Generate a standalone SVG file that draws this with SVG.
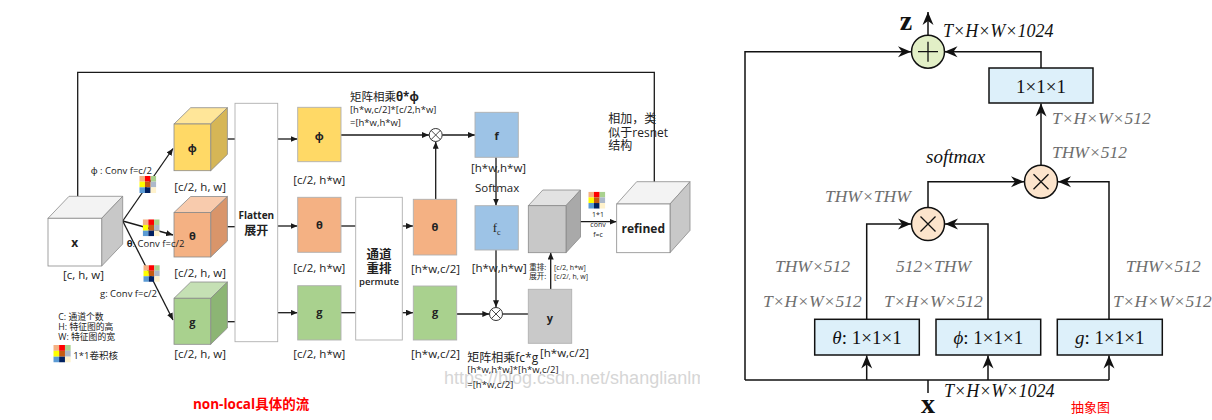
<svg xmlns="http://www.w3.org/2000/svg" width="1212" height="420" viewBox="0 0 1212 420">
<style>
.s{font-family:"Open Sans","Noto Sans","Noto Sans CJK SC",sans-serif;fill:#222}
.lab{font-size:11.5px}
.sm{font-size:9.5px}
.b{font-weight:bold}
.ln{fill:none;stroke:#1a1a1a;stroke-width:1.3}
.rl{fill:none;stroke:#111;stroke-width:1.5}
.ed{stroke:#8a8a8a;stroke-width:0.8}
.rc{stroke:#b0b0b0;stroke-width:0.9}
.t{font-family:"Liberation Serif","Times New Roman",serif}
.gi{font-size:17.5px;font-style:italic;fill:#6e6e6e}
.bi{font-size:18px;font-style:italic;fill:#111}
.bx{fill:#ddf0fa;stroke:#111;stroke-width:1.5}
.bt{font-size:19px;fill:#111}
</style>
<defs>
<marker id="aL" markerUnits="userSpaceOnUse" markerWidth="8" markerHeight="6" refX="7" refY="3" orient="auto"><path d="M0,0 L7,3 L0,6 z" fill="#1a1a1a"/></marker>
<marker id="aR" markerUnits="userSpaceOnUse" markerWidth="14" markerHeight="12" refX="13" refY="6" orient="auto"><path d="M0,0.5 L13,6 L0,11.5 L4,6 z" fill="#111"/></marker>
<symbol id="k" viewBox="0 0 3 3">
<rect x="0" y="0" width="1" height="1" fill="#f4b183"/><rect x="1" y="0" width="1" height="1" fill="#ff0000"/><rect x="2" y="0" width="1" height="1" fill="#a9d18e"/>
<rect x="0" y="1" width="1" height="1" fill="#ffff00"/><rect x="1" y="1" width="1" height="1" fill="#c55a11"/><rect x="2" y="1" width="1" height="1" fill="#adb9ca"/>
<rect x="0" y="2" width="1" height="1" fill="#5b9bd5"/><rect x="1" y="2" width="1" height="1" fill="#002060"/><rect x="2" y="2" width="1" height="1" fill="#fff2cc"/>
</symbol>
<clipPath id="cl"><rect x="0" y="0" width="700" height="420"/></clipPath>
</defs>
<rect width="1212" height="420" fill="#fff"/>

<!-- ===== LEFT DIAGRAM ===== -->
<text x="444" y="383.5" font-family="'Liberation Sans',Arial,sans-serif" font-size="18" fill="#d6d6d6" clip-path="url(#cl)">https://blog.csdn.net/shanglianlm</text>

<g id="connectors-left">
<path class="ln" d="M77.7,196.5 V72.3 H654.3 V191" marker-end="url(#aL)"/>
<path class="ln" d="M122.7,221 L173,148.5" marker-end="url(#aL)"/>
<path class="ln" d="M122.7,221 L173,235" marker-end="url(#aL)"/>
<path class="ln" d="M122.7,221 L173,320" marker-end="url(#aL)"/>
<path class="ln" d="M227.4,139 H235"/>
<path class="ln" d="M227.4,226.7 H235"/>
<path class="ln" d="M227.4,321.7 H235"/>
<path class="ln" d="M277.7,139 H297.5" marker-end="url(#aL)"/>
<path class="ln" d="M277.7,226 H297.5" marker-end="url(#aL)"/>
<path class="ln" d="M277.7,312.7 H297.5" marker-end="url(#aL)"/>
<path class="ln" d="M341,226 H355.7"/>
<path class="ln" d="M341,312.7 H355.7"/>
<path class="ln" d="M402.3,226 H413" marker-end="url(#aL)"/>
<path class="ln" d="M402.3,312.7 H413" marker-end="url(#aL)"/>
<path class="ln" d="M341,135 H429" marker-end="url(#aL)"/>
<path class="ln" d="M435.7,199.3 V141.7" marker-end="url(#aL)"/>
<path class="ln" d="M442.2,135 H475" marker-end="url(#aL)"/>
<path class="ln" d="M496,157.3 V205.5" marker-end="url(#aL)"/>
<path class="ln" d="M496,250 V307.3" marker-end="url(#aL)"/>
<path class="ln" d="M456.7,314 H489.3" marker-end="url(#aL)"/>
<path class="ln" d="M502.5,314 H528.3"/>
<path class="ln" d="M550.7,289.3 V252.5" marker-end="url(#aL)"/>
<path class="ln" d="M566,221.7 H616.5" marker-end="url(#aL)"/>
</g>

<g id="node-x">
<polygon points="48,218.3 69,196.3 122.7,196.3 101.7,218.3" fill="#f3f3f3" class="ed"/>
<polygon points="101.7,218.3 122.7,196.3 122.7,244 101.7,266" fill="#c8c8c8" class="ed"/>
<rect x="48" y="218.3" width="53.7" height="47.7" fill="#fff" class="ed"/>
<text class="s b" x="74.8" y="247" font-size="12" text-anchor="middle">x</text>
<text class="s lab" x="63" y="279">[c, h, w]</text>
</g>

<g id="node-phi-cube">
<polygon points="174,124 190.7,107.7 227.4,107.7 210.7,124" fill="#ffe699" class="ed"/>
<polygon points="210.7,124 227.4,107.7 227.4,154.4 210.7,170.7" fill="#d6b656" class="ed"/>
<rect x="174" y="124" width="36.7" height="46.7" fill="#ffd966" class="ed"/>
<text class="s b" x="192.3" y="152" font-size="11" text-anchor="middle">ϕ</text>
<text class="s lab" x="174.3" y="190.7">[c/2, h, w]</text>
<text class="s sm" x="90.7" y="174.3">ϕ : Conv f=c/2</text>
<use href="#k" x="139.3" y="176" width="17" height="17"/>
</g>

<g id="node-theta-cube">
<polygon points="174,212.5 190.7,196.5 227.4,196.5 210.7,212.5" fill="#f8cbad" class="ed"/>
<polygon points="210.7,212.5 227.4,196.5 227.4,241 210.7,257" fill="#d9956a" class="ed"/>
<rect x="174" y="212.5" width="36.7" height="44.5" fill="#f4b183" class="ed"/>
<text class="s b" x="192.3" y="240" font-size="11" text-anchor="middle">θ</text>
<text class="s lab" x="174.3" y="276.7">[c/2, h, w]</text>
<use href="#k" x="142.7" y="219.3" width="17" height="17"/>
<text class="s sm" x="126.7" y="246.7"><tspan class="b">θ</tspan>: Conv f=c/2</text>
</g>

<g id="node-g-cube">
<polygon points="174,298.3 190.7,282 227.4,282 210.7,298.3" fill="#c5e0b4" class="ed"/>
<polygon points="210.7,298.3 227.4,282 227.4,328 210.7,344.3" fill="#8cb574" class="ed"/>
<rect x="174" y="298.3" width="36.7" height="46" fill="#a9d18e" class="ed"/>
<text class="s b" x="192.3" y="326" font-size="11" text-anchor="middle">g</text>
<text class="s lab" x="174.3" y="358.3">[c/2, h, w]</text>
<use href="#k" x="143.3" y="265" width="16.5" height="17"/>
<text class="s sm" x="100" y="296.7">g: Conv f=c/2</text>
</g>

<g id="legend">
<text class="s" x="58.3" y="320" font-size="8.8">C:  通道个数</text>
<text class="s" x="58.3" y="329.7" font-size="8.8">H:  特征图的高</text>
<text class="s" x="58.3" y="339.5" font-size="8.8">W: 特征图的宽</text>
<use href="#k" x="53.3" y="345" width="17.5" height="17.5"/>
<text class="s" x="73.3" y="359.3" font-size="9.5">1*1卷积核</text>
<text class="s b" x="193" y="408.5" font-size="13.5" style="fill:#ff0000">non-local具体的流</text>
</g>

<g id="node-flatten">
<rect x="235" y="103.3" width="42.7" height="238.4" fill="#fff" class="rc"/>
<text class="s b" x="256.3" y="219" font-size="10" text-anchor="middle">Flatten</text>
<text class="s b" x="256.3" y="235" font-size="12" text-anchor="middle">展开</text>
</g>

<g id="node-phi">
<rect x="297.7" y="107.3" width="43.3" height="54.4" fill="#ffd966" class="rc"/>
<text class="s b" x="319.3" y="140" font-size="11" text-anchor="middle">ϕ</text>
<text class="s lab" x="293.3" y="184.3">[c/2, h*w]</text>
</g>

<g id="node-theta">
<rect x="297.7" y="197.3" width="43.3" height="55" fill="#f4b183" class="rc"/>
<text class="s b" x="319.3" y="229" font-size="11" text-anchor="middle">θ</text>
<text class="s lab" x="293.3" y="271.7">[c/2, h*w]</text>
</g>

<g id="node-g">
<rect x="297.7" y="285.7" width="43.3" height="54.3" fill="#a9d18e" class="rc"/>
<text class="s b" x="319.3" y="316" font-size="11" text-anchor="middle">g</text>
<text class="s lab" x="293.3" y="358.3">[c/2, h*w]</text>
</g>

<g id="node-permute">
<rect x="355.7" y="197.3" width="46.6" height="142.7" fill="#fff" class="rc"/>
<text class="s b" x="379" y="259.3" font-size="12.5" text-anchor="middle">通道</text>
<text class="s b" x="379" y="273" font-size="12.5" text-anchor="middle">重排</text>
<text class="s" x="379" y="285" font-size="9.5" text-anchor="middle" font-weight="600">permute</text>
</g>

<g id="node-theta2">
<rect x="413.3" y="199.3" width="43.4" height="55.7" fill="#f4b183" class="rc"/>
<text class="s b" x="435" y="231" font-size="11" text-anchor="middle">θ</text>
<text class="s lab" x="411" y="273.3">[h*w,c/2]</text>
</g>

<g id="node-g2">
<rect x="413.3" y="286" width="43.4" height="54" fill="#a9d18e" class="rc"/>
<text class="s b" x="435" y="316" font-size="11" text-anchor="middle">g</text>
<text class="s lab" x="411" y="358.3">[h*w,c/2]</text>
</g>

<g id="node-mul1">
<circle cx="435.7" cy="135" r="6.5" fill="#fff" stroke="#333" stroke-width="1"/>
<path d="M431.1,130.4 L440.3,139.6 M440.3,130.4 L431.1,139.6" stroke="#333" stroke-width="0.9"/>
<text class="s" x="350" y="100.7" font-size="11.5">矩阵相乘<tspan class="b">θ*ϕ</tspan></text>
<text class="s sm" x="350" y="113.3">[h*w,c/2]*[c/2,h*w]</text>
<text class="s sm" x="350" y="126">=[h*w,h*w]</text>
</g>

<g id="node-f">
<rect x="475" y="112.3" width="43.3" height="45" fill="#9dc3e6" class="rc"/>
<text class="s b" x="496.7" y="140" font-size="11" text-anchor="middle">f</text>
<text class="s lab" x="471" y="171.7">[h*w,h*w]</text>
<text class="s" x="475" y="191.7" font-size="11.5">Softmax</text>
</g>

<g id="node-fc">
<rect x="475" y="205.7" width="43.3" height="44.3" fill="#9dc3e6" class="rc"/>
<text class="t" x="496.7" y="232" font-size="13" text-anchor="middle" fill="#222">f<tspan font-size="8" dy="3">c</tspan></text>
<text class="s lab" x="471.7" y="271.7">[h*w,h*w]</text>
</g>

<g id="node-mul2">
<circle cx="496" cy="314" r="6.5" fill="#fff" stroke="#333" stroke-width="1"/>
<path d="M491.4,309.4 L500.6,318.6 M500.6,309.4 L491.4,318.6" stroke="#333" stroke-width="0.9"/>
<text class="s" x="467.3" y="361.7" font-size="12">矩阵相乘fc*g</text>
<text class="s sm" x="467.3" y="373.3">[h*w,h*w]*[h*w,c/2]</text>
<text class="s sm" x="467.3" y="388.3">=[h*w,c/2]</text>
</g>

<g id="node-y">
<rect x="528.3" y="289.3" width="43.4" height="54" fill="#c9c9c9" class="rc"/>
<text class="s b" x="550" y="322" font-size="11" text-anchor="middle">y</text>
<text class="s lab" x="540" y="356.7">[h*w,c/2]</text>
<text class="s" x="529.3" y="270" font-size="7.5">重排:</text>
<text class="s" x="529.3" y="279.3" font-size="7.5">展开:</text>
<text class="s" x="554" y="270" font-size="7">[c/2, h*w]</text>
<text class="s" x="554" y="279.3" font-size="7">[c/2/, h, w]</text>
</g>

<g id="node-gray-cube">
<polygon points="528.3,205.7 542.8,190 580.5,190 566,205.7" fill="#e2e2e2" class="ed"/>
<polygon points="566,205.7 580.5,190 580.5,237 566,252.7" fill="#a9a9a9" class="ed"/>
<rect x="528.3" y="205.7" width="37.7" height="47" fill="#c8c8c8" class="ed"/>
<use href="#k" x="588.3" y="191.7" width="17" height="17"/>
<text class="s" x="598" y="216.7" font-size="7" text-anchor="middle">1*1</text>
<text class="s" x="598" y="226.7" font-size="7" text-anchor="middle">conv</text>
<text class="s" x="598" y="236.7" font-size="7" text-anchor="middle">f=c</text>
</g>

<g id="node-refined">
<polygon points="616.7,204 636.7,181.7 690,181.7 670,204" fill="#f3f3f3" class="ed"/>
<polygon points="670,204 690,181.7 690,230.4 670,252.7" fill="#c8c8c8" class="ed"/>
<rect x="616.7" y="204" width="53.3" height="48.7" fill="#fff" class="ed"/>
<text class="s b" x="643.3" y="233" font-size="12" text-anchor="middle">refined</text>
<text class="s" x="608.3" y="123.3" font-size="12">相加，类</text>
<text class="s" x="608.3" y="136.7" font-size="12">似于resnet</text>
<text class="s" x="608.3" y="150" font-size="12">结构</text>
</g>

<!-- ===== RIGHT DIAGRAM ===== -->
<g id="connectors-right">
<path class="rl" d="M928,35 V12" marker-end="url(#aR)"/>
<path class="rl" d="M745,380 V51.7 H911" marker-end="url(#aR)"/>
<path class="rl" d="M1041,68 V51.7 H944.5" marker-end="url(#aR)"/>
<path class="rl" d="M1041,165 V103.5" marker-end="url(#aR)"/>
<path class="rl" d="M928,207.5 V181.7 H1024" marker-end="url(#aR)"/>
<path class="rl" d="M1109,319 V181.7 H1058" marker-end="url(#aR)"/>
<path class="rl" d="M866.7,319 V224 H911" marker-end="url(#aR)"/>
<path class="rl" d="M988,319 V224 H945" marker-end="url(#aR)"/>
<path class="rl" d="M745,380 H1109"/>
<path class="rl" d="M866.7,380 V355.5" marker-end="url(#aR)"/>
<path class="rl" d="M988,380 V355.5" marker-end="url(#aR)"/>
<path class="rl" d="M1109,380 V355.5" marker-end="url(#aR)"/>
<path class="rl" d="M928,380 V393"/>
</g>

<g id="node-z">
<circle cx="928" cy="51.7" r="16.5" fill="#e2efc6" stroke="#111" stroke-width="1.5"/>
<path d="M918,51.7 H938 M928,41.7 V61.7" stroke="#111" stroke-width="1.3"/>
<text class="t" x="906" y="30" font-size="28" font-weight="bold" fill="#111" text-anchor="middle">z</text>
<text class="t bi" x="943" y="37">T×H×W×1024</text>
</g>

<g id="node-out-conv">
<rect class="bx" x="989" y="68" width="104" height="35"/>
<text class="t bt" x="1041" y="93" text-anchor="middle">1×1×1</text>
<text class="t gi" x="1052" y="124">T×H×W×512</text>
<text class="t gi" x="1052" y="158">THW×512</text>
</g>

<g id="node-mul-b">
<circle cx="1041" cy="181.7" r="16.5" fill="#fce4cc" stroke="#111" stroke-width="1.5"/>
<path d="M1033.5,174.2 L1048.5,189.2 M1048.5,174.2 L1033.5,189.2" stroke="#111" stroke-width="1.3"/>
<text class="t" x="926" y="163" font-size="19" font-style="italic" fill="#111">softmax</text>
</g>

<g id="node-mul-a">
<circle cx="928" cy="224" r="16.5" fill="#fce4cc" stroke="#111" stroke-width="1.5"/>
<path d="M920.5,216.5 L935.5,231.5 M935.5,216.5 L920.5,231.5" stroke="#111" stroke-width="1.3"/>
<text class="t gi" x="825" y="202">THW×THW</text>
</g>

<g id="node-theta-conv">
<rect class="bx" x="814.7" y="319.3" width="104.6" height="35.7"/>
<text class="t bt" x="867" y="344" text-anchor="middle"><tspan font-style="italic">θ</tspan>: 1×1×1</text>
<text class="t gi" x="775" y="271.7">THW×512</text>
<text class="t gi" x="763" y="306.7">T×H×W×512</text>
</g>

<g id="node-phi-conv">
<rect class="bx" x="936" y="319.3" width="104.7" height="35.7"/>
<text class="t bt" x="988.3" y="344" text-anchor="middle"><tspan font-style="italic">ϕ</tspan>: 1×1×1</text>
<text class="t gi" x="896" y="271.7">512×THW</text>
<text class="t gi" x="884" y="306.7">T×H×W×512</text>
</g>

<g id="node-g-conv">
<rect class="bx" x="1057.3" y="319.3" width="105" height="35.7"/>
<text class="t bt" x="1109.8" y="344" text-anchor="middle"><tspan font-style="italic">g</tspan>: 1×1×1</text>
<text class="t gi" x="1125.7" y="271.7">THW×512</text>
<text class="t gi" x="1113" y="306.7">T×H×W×512</text>
</g>

<g id="node-x-in">
<text class="t" x="928" y="413" font-size="28" font-weight="bold" fill="#111" text-anchor="middle">x</text>
<text class="t bi" x="944" y="396.7">T×H×W×1024</text>
<text class="s" x="1071" y="411.7" font-size="13" style="fill:#ff0000">抽象图</text>
</g>
</svg>
